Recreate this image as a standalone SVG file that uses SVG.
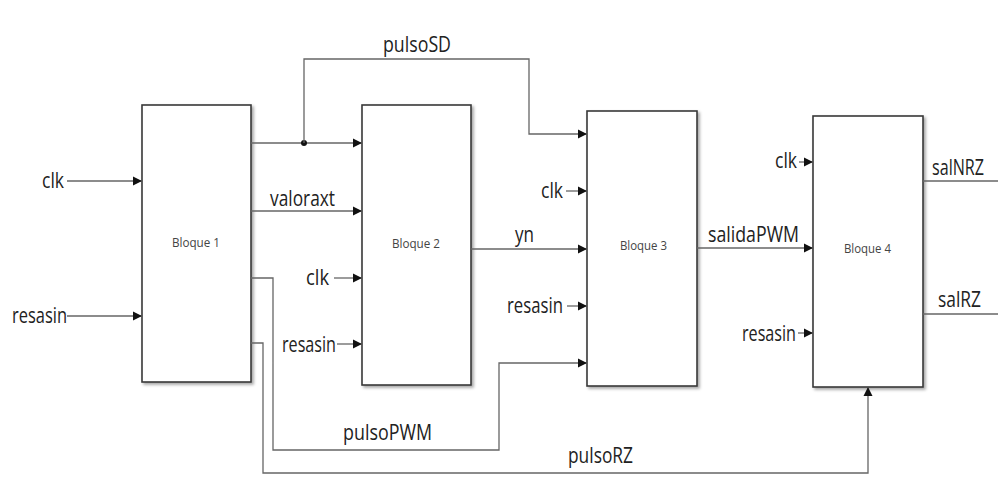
<svg xmlns="http://www.w3.org/2000/svg" width="998" height="495" viewBox="0 0 998 495">
<style>
.box{fill:#fff;stroke:#3a3a3a;stroke-width:1.6;filter:url(#sh)}
.bt{font-family:"Open Sans","Liberation Sans",sans-serif;font-size:12px;fill:#444}
.lb{font-family:"Open Sans","Liberation Sans",sans-serif;font-size:21px;fill:#222}
.w{fill:none;stroke:#666;stroke-width:1.3}
.a{marker-end:url(#ar)}
</style>
<defs>
<filter id="sh" x="-10%" y="-10%" width="130%" height="130%">
<feDropShadow dx="2" dy="2" stdDeviation="1.5" flood-color="#000" flood-opacity="0.35"/>
</filter>
<marker id="ar" markerUnits="userSpaceOnUse" markerWidth="10" markerHeight="10" refX="9" refY="5" orient="auto">
<path d="M0,0.5 L9,5 L0,9.5 z" fill="#111"/>
</marker>
</defs>
<g id="b1"><rect class="box" x="142" y="105" width="109" height="277"/><text class="bt" x="172" y="247" textLength="48" lengthAdjust="spacingAndGlyphs">Bloque 1</text></g>
<g id="b2"><rect class="box" x="362" y="105" width="109" height="280"/><text class="bt" x="392" y="248" textLength="48" lengthAdjust="spacingAndGlyphs">Bloque 2</text></g>
<g id="b3"><rect class="box" x="587" y="111" width="110" height="275"/><text class="bt" x="620" y="250" textLength="47" lengthAdjust="spacingAndGlyphs">Bloque 3</text></g>
<g id="b4"><rect class="box" x="813" y="116" width="110" height="271"/><text class="bt" x="844" y="253" textLength="47" lengthAdjust="spacingAndGlyphs">Bloque 4</text></g>
<g id="connectors">
<path class="w a" d="M67,181 H142"/>
<path class="w a" d="M67,316 H142"/>
<path class="w a" d="M251,143 H362"/>
<circle cx="304" cy="143" r="3" fill="#111"/>
<path class="w a" d="M304,143 V59 H529 V134 H587"/>
<path class="w a" d="M251,211 H362"/>
<path class="w a" d="M334,278 H362"/>
<path class="w a" d="M337,344 H362"/>
<path class="w a" d="M251,278 H273 V450 H499 V363 H587"/>
<path class="w a" d="M251,343 H263 V473 H868 V387"/>
<path class="w a" d="M471,249 H587"/>
<path class="w a" d="M566,191 H587"/>
<path class="w a" d="M567,306 H587"/>
<path class="w a" d="M697,248 H813"/>
<path class="w a" d="M799,162 H813"/>
<path class="w a" d="M798,333 H813"/>
<path class="w" d="M923,181 H998"/>
<path class="w" d="M923,314 H998"/>
</g>
<g id="labels">
<text class="lb" x="42" y="188" textLength="22" lengthAdjust="spacingAndGlyphs">clk</text>
<text class="lb" x="12" y="323" textLength="55" lengthAdjust="spacingAndGlyphs">resasin</text>
<text class="lb" x="270" y="206" textLength="65" lengthAdjust="spacingAndGlyphs">valoraxt</text>
<text class="lb" x="383" y="52" textLength="68" lengthAdjust="spacingAndGlyphs">pulsoSD</text>
<text class="lb" x="306" y="285" textLength="23" lengthAdjust="spacingAndGlyphs">clk</text>
<text class="lb" x="282" y="352" textLength="54" lengthAdjust="spacingAndGlyphs">resasin</text>
<text class="lb" x="343" y="440" textLength="89" lengthAdjust="spacingAndGlyphs">pulsoPWM</text>
<text class="lb" x="568" y="463" textLength="65" lengthAdjust="spacingAndGlyphs">pulsoRZ</text>
<text class="lb" x="515" y="242" textLength="19" lengthAdjust="spacingAndGlyphs">yn</text>
<text class="lb" x="541" y="198" textLength="22" lengthAdjust="spacingAndGlyphs">clk</text>
<text class="lb" x="507" y="313" textLength="56" lengthAdjust="spacingAndGlyphs">resasin</text>
<text class="lb" x="708" y="242" textLength="91" lengthAdjust="spacingAndGlyphs">salidaPWM</text>
<text class="lb" x="775" y="168" textLength="22" lengthAdjust="spacingAndGlyphs">clk</text>
<text class="lb" x="742" y="341" textLength="54" lengthAdjust="spacingAndGlyphs">resasin</text>
<text class="lb" x="932" y="175" textLength="52" lengthAdjust="spacingAndGlyphs">salNRZ</text>
<text class="lb" x="938" y="307" textLength="43" lengthAdjust="spacingAndGlyphs">salRZ</text>
</g>
</svg>
